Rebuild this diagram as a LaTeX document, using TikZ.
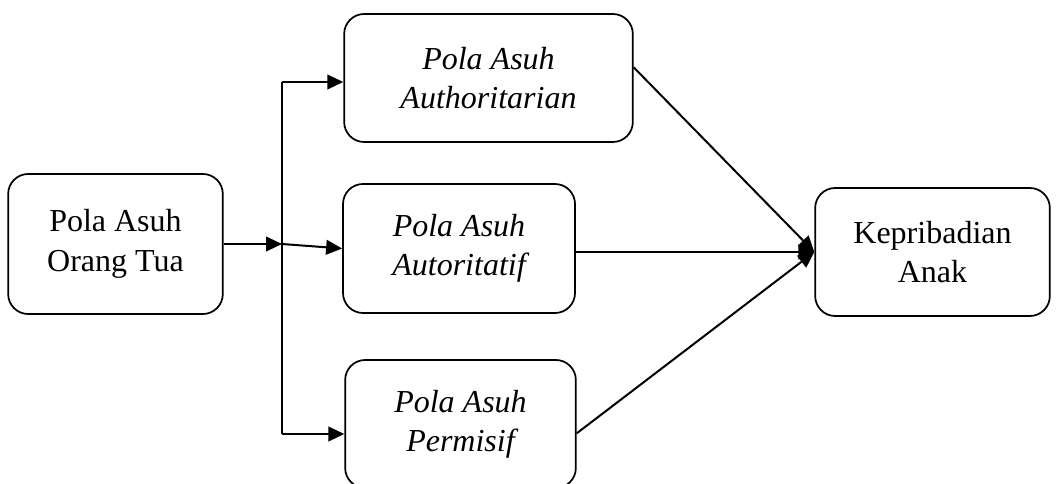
\documentclass[tikz,border=0pt]{standalone}
\usepackage{fontspec}
\setmainfont{Liberation Serif}
\usetikzlibrary{arrows.meta}
\begin{document}
\begin{tikzpicture}[x=0.75pt,y=-0.75pt,
  box/.style={draw,line width=1.3pt,rounded corners=15pt,inner sep=0pt,align=center,
    font=\fontsize{24}{29.5}\selectfont},
  ln/.style={line width=1.5pt},
  arr/.style={ln,-{Triangle[length=12pt,width=11pt]}}]
\useasboundingbox (0,0) rectangle (1056,484);
\node[box,minimum width=161pt,minimum height=105pt] (l) at (115.5,244) {Pola Asuh\\Orang Tua};
\node[box,minimum width=216.5pt,minimum height=96pt] (t) at (488.5,78) {\itshape Pola Asuh\\\itshape Authoritarian};
\node[box,minimum width=174pt,minimum height=96.75pt] (m) at (459,248.5) {\itshape Pola Asuh\\\itshape Autoritatif};
\node[box,minimum width=173pt,minimum height=96pt] (b) at (460.5,424) {\itshape Pola Asuh\\\itshape Permisif};
\node[box,minimum width=176pt,minimum height=96pt] (r) at (932.5,252) {Kepribadian\\Anak};
\coordinate (j) at (282,244);
\coordinate (a1) at (282,82);
\coordinate (a3) at (282,434);
\draw[arr] (l.east) -- (j);
\draw[ln] (a1) -- (a3);
\draw[arr] (a1) -- (a1 -| t.west);
\draw[arr] (j) -- (m.west);
\draw[arr] (a3) -- (a3 -| b.west);
\draw[arr] ([yshift=8pt]t.east) -- (r.west);
\draw[arr] (m.east |- r.west) -- (r.west);
\draw[arr] ([yshift=-7pt]b.east) -- (r.west);
\end{tikzpicture}
\end{document}
